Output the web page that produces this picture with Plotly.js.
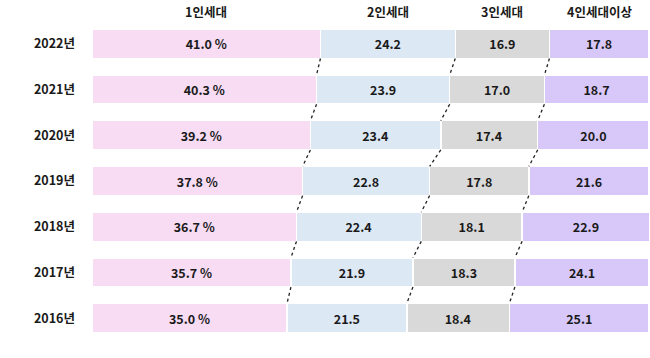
<!DOCTYPE html>
<html><head><meta charset="utf-8">
<script src="https://cdn.plot.ly/plotly-3.0.1.min.js"></script>
<style>body{margin:0;background:#fff}#c{width:650px;height:358px}</style>
</head><body><div id="c"></div>
<script>
const years = ['2022', '2021', '2020', '2019', '2018', '2017', '2016'];
const categories = ['1인세대', '2인세대', '3인세대', '4인세대이상'];
const one = [41.0, 40.3, 39.2, 37.8, 36.7, 35.7, 35.0];
const two = [24.2, 23.9, 23.4, 22.8, 22.4, 21.9, 21.5];
const three = [16.9, 17.0, 17.4, 17.8, 18.1, 18.3, 18.4];
const four = [17.8, 18.7, 20.0, 21.6, 22.9, 24.1, 25.1];
const series = [one, two, three, four];
const colors = ['#f7dcf4', '#dde8f5', '#d9d9d9', '#d8c8fa'];

const idx = years.map((_, i) => i);
const BW = 0.64;
const FONT = 'Noto Sans CJK KR';
const traces = series.map((vals, s) => ({
  type: 'bar', orientation: 'h', x: vals, y: idx, width: BW,
  marker: {color: colors[s], line: {color: '#fff', width: 1.5}},
  text: vals.map(v => v.toFixed(1) + (s === 0 ? ' %' : '')),
  textposition: 'inside', insidetextanchor: 'middle', textangle: 0,
  textfont: {family: FONT, size: 12.5, color: '#1a1a1a', weight: 'bold'},
  hoverinfo: 'skip', showlegend: false
}));
// dotted connectors between consecutive bars at each boundary
for (let b = 1; b < 4; b++) {
  const cum = idx.map(i => series.slice(0, b).reduce((a, arr) => a + arr[i], 0));
  const xs = [], ys = [];
  for (let i = 0; i < years.length - 1; i++) {
    xs.push(cum[i], cum[i + 1], null);
    ys.push(i + BW / 2, i + 1 - BW / 2, null);
  }
  traces.push({type: 'scatter', mode: 'lines', x: xs, y: ys,
    line: {color: '#222', width: 1.3, dash: 'dot'}, hoverinfo: 'skip', showlegend: false});
}
// headers centred over the first (2022) bar's segments
let acc = 0;
const annotations = categories.map((c, k) => {
  const mid = acc + series[k][0] / 2; acc += series[k][0];
  return {text: c, xref: 'x', yref: 'paper', x: mid, y: 1.0, yanchor: 'bottom', yshift: -2,
    showarrow: false, font: {family: FONT, size: 12.5, color: '#1a1a1a', weight: 'bold'}};
});
const maxSum = Math.max(...idx.map(i => series.reduce((a, arr) => a + arr[i], 0)));
Plotly.newPlot('c', traces, {
  width: 650, height: 358, barmode: 'stack',
  margin: {l: 92, r: 0, t: 21, b: 17},
  paper_bgcolor: '#fff', plot_bgcolor: '#fff',
  xaxis: {range: [0, maxSum + 0.05], visible: false, fixedrange: true},
  yaxis: {range: [6.5, -0.5], tickvals: idx, ticktext: years.map(y => y + '년'),
    showgrid: false, zeroline: false, showline: false, ticks: '', ticklabelstandoff: 16,
    tickfont: {family: FONT, size: 12.5, color: '#1a1a1a', weight: 'bold'}},
  annotations: annotations
}, {staticPlot: true});
</script></body></html>
